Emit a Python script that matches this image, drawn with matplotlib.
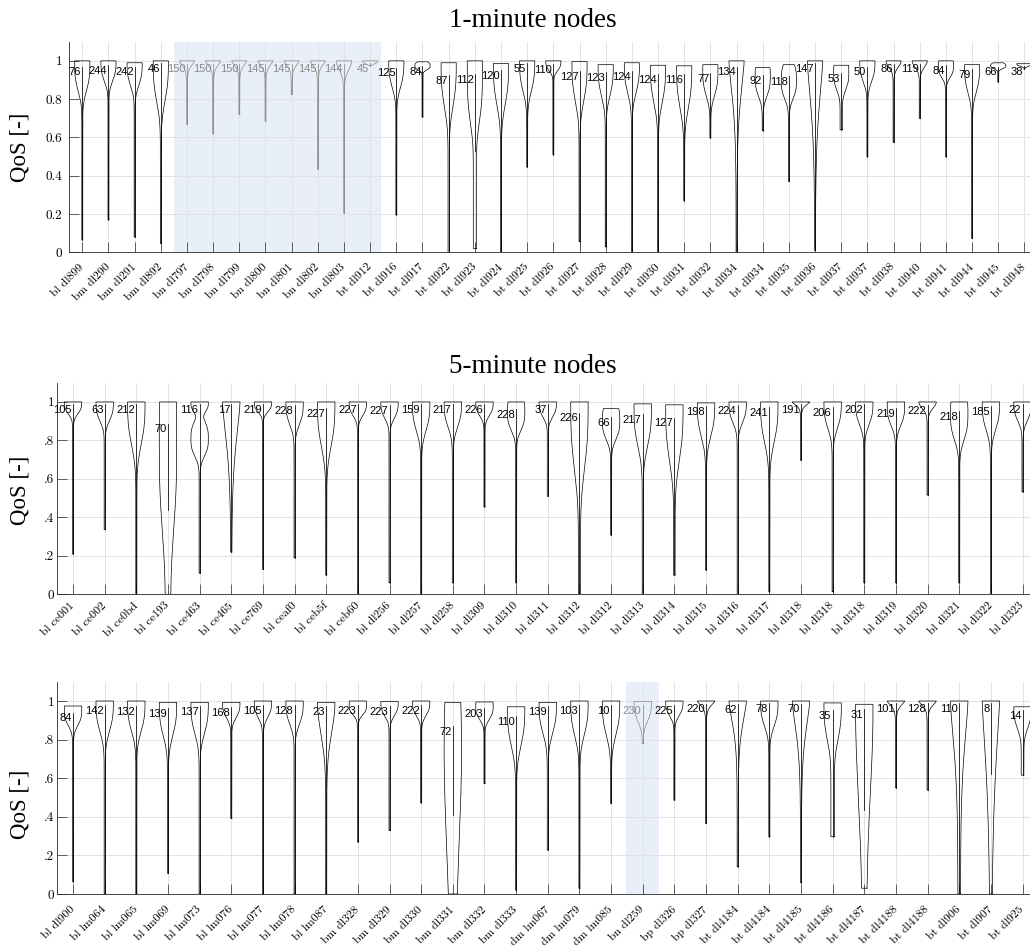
import numpy as np
import matplotlib
matplotlib.use("Agg")
import matplotlib.pyplot as plt

# ---------------- 1-minute nodes ----------------
names1 = ["bl dl899", "bm dl290", "bm dl291", "bm dl892", "bn dl797", "bn dl798", "bn dl799",
          "bn dl800", "bn dl801", "bn dl802", "bn dl803", "bt dl912", "bt dl916", "bt dl917",
          "bt dl922", "bt dl923", "bt dl924", "bt dl925", "bt dl926", "bt dl927", "bt dl928",
          "bt dl929", "bt dl930", "bt dl931", "bt dl932", "bt dl934", "bt dl934", "bt dl935",
          "bt dl936", "bt dl937", "bt dl937", "bt dl938", "bt dl940", "bt dl941", "bt dl944",
          "bt dl945", "bt dl948"]
count1 = [76, 244, 242, 46, 150, 150, 150, 145, 145, 145, 144, 45, 125, 84, 87, 112, 120, 55, 110,
          127, 123, 124, 124, 116, 77, 134, 92, 118, 147, 53, 50, 86, 119, 84, 79, 66, 38]
lo1 = [.065, .17, .08, .047, .668, .62, .72, .685, .825, .435, .204, .975, .196, .708, .0, .02, .0,
       .446, .51, .056, .03, .0, .0, .27, .598, .0, .636, .37, .01, .64, .50, .575, .70, .50, .073,
       .89, .96]
hi1 = [1.0, 1.0, .99, 1.0, 1.0, 1.0, 1.0, 1.0, 1.0, 1.0, 1.0, 1.0, 1.0, .995, .99, 1.0, .986, 1.0,
       1.0, .996, .98, .99, .977, .974, .98, 1.0, .965, .98, 1.0, .977, 1.0, 1.0, 1.0, 1.0, .98,
       .99, .985]
peak1 = [.985, 1.0, .99, 1.0, 1.0, 1.0, 1.0, 1.0, 1.0, 1.0, 1.0, 1.0, 1.0, .975, .99, 1.0, .986,
         1.0, 1.0, .996, .98, .99, .977, .974, .95, 1.0, .92, .90, 1.0, .94, 1.0, 1.0, 1.0, .975,
         .98, .975, .985]
neck1 = [.77, .84, .81, .68, .935, .935, .935, .935, .935, .935, .90, .975, .79, .94, .64, .57, .66,
         .76, .92, .68, .73, .75, .68, .64, .75, .55, .76, .75, .45, .80, .834, .93, .93, .88, .76,
         .95, .965]
power1 = [3, 3, 3, 3, 1.5, 1.5, 1.5, 1.5, 1.5, 1.5, 2, 3, 3, 3, 3, 4, 3, 3, 3, 3, 3, 3, 3, 3, 3,
          1.5, 3, 3, 1.5, 3, 3, 2, 2, 3, 3, 3, 3]
tail1 = [.06] * 14 + [.08, .2] + [.06] * 13 + [.15] + [.06] * 7
med1 = [.94, .947, .94, .96, .956, .956, .956, .956, .956, .956, .956, .96, .935, .943, .895, .90,
        .92, .96, .953, .918, .913, .916, .90, .90, .904, .94, .895, .89, .96, .904, .94, .956, .956,
        .947, .925, .94, .943]
wlo1 = list(lo1)
wlo1[15] = .53
bumps1 = []
grey1 = list(range(4, 12))
span1 = (4.5, 12.4)

# ---------------- 5-minute nodes (upper) ----------------
names2 = ["bl ce001", "bl ce002", "bl ce0bd", "bl ce193", "bl ce463", "bl ce465", "bl ce769",
          "bl ceaf0", "bl ceb5f", "bl ceb60", "bl dl256", "bl dl257", "bl dl258", "bl dl309",
          "bl dl310", "bl dl311", "bl dl312", "bl dl312", "bl dl313", "bl dl314", "bl dl315",
          "bl dl316", "bl dl317", "bl dl318", "bl dl318", "bl dl318", "bl dl319", "bl dl320",
          "bl dl321", "bl dl322", "bl dl323"]
count2 = [105, 63, 212, 70, 116, 17, 219, 228, 227, 227, 227, 159, 217, 226, 228, 37, 226, 66, 217,
          127, 198, 224, 241, 191, 206, 202, 219, 222, 218, 185, 22]
lo2 = [.21, .337, 0, 0, .11, .22, .13, .19, .10, 0, .06, 0, .06, .455, .06, .51, 0, .308, 0, .10,
       .126, 0, .014, .697, .014, .06, .06, .516, .06, 0, .533]
hi2 = [1, 1, 1, 1, 1, 1, 1, 1, 1, 1, 1, 1, 1, 1, 1, 1, 1, .965, .99, .985, .995, 1, 1, 1, 1, 1, 1,
       1, 1, 1, 1]
peak2 = [1, 1, 1, .8, 1, 1, 1, 1, 1, 1, 1, 1, 1, 1, .95, 1, 1, .905, .975, .985, .995, 1, 1, 1, 1,
         1, .985, 1, .94, 1, 1]
neck2 = [.905, .85, .66, .10, .92, .50, .92, .82, .645, .89, .87, .77, .80, .89, .80, .88, .47, .75,
         .66, .54, .73, .835, .68, .957, .79, .82, .82, .93, .73, .78, .85]
power2 = [3, 3, 3, 3, 3, 1.5, 3, 3, 3, 3, 3, 3, 3, 3, 3, 3, 3, 3, 3, 3, 3, 3, 3, 1.5, 3, 3, 3, 2,
          3, 3, 3]
tail2 = [.06] * 31
tail2[3] = .3
tail2[16] = .12
tail2[19] = .08
med2 = [.96, .96, .957, .857, .96, .96, .957, .953, .936, .957, .953, .96, .96, .96, .931, .96, .914,
        .891, .908, .888, .948, .952, .943, .957, .943, .957, .936, .953, .922, .948, .957]
wlo2 = list(lo2)
wlo2[3] = .44
bumps2 = [(4, .81, .085, 1.0)]
grey2 = []
span2 = None

# ---------------- 5-minute nodes (lower) ----------------
names3 = ["bl dl900", "bl lm064", "bl lm065", "bl lm069", "bl lm073", "bl lm076", "bl lm077",
          "bl lm078", "bl lm087", "bm dl328", "bm dl329", "bm dl330", "bm dl331", "bm dl332",
          "bm dl333", "dm lm067", "dm lm079", "dm lm085", "bn dl259", "bp dl326", "bp dl327",
          "bt dl4184", "bt dl4184", "bt dl4185", "bt dl4186", "bt dl4187", "bt dl4188", "bt dl4188",
          "bt dl906", "bt dl907", "bt dl925"]
count3 = [84, 142, 132, 139, 137, 168, 105, 128, 23, 223, 223, 222, 72, 203, 110, 139, 103, 10, 230,
          225, 220, 62, 78, 70, 35, 31, 101, 128, 110, 8, 14]
lo3 = [.064, 0, 0, .107, 0, .392, 0, 0, 0, .27, .33, .473, 0, .573, .02, .228, .03, .47, .78, .487,
       .366, .142, .297, .059, .297, .03, .55, .539, 0, 0, .616]
hi3 = [.974, 1, 1, .993, .993, .993, 1, 1, .993, 1, .997, 1, .993, .995, .97, .993, 1, 1, .997, 1,
       1, 1, 1, 1, .99, .983, 1, 1, 1, 1, .97]
peak3 = [.955, 1, 1, .993, .993, .993, 1, 1, .993, .98, .997, 1, .75, .975, .97, .993, 1, 1, .997,
         1, 1, 1, 1, 1, .99, .95, 1, 1, 1, 1, .97]
neck3 = [.83, .76, .76, .73, .746, .87, .87, .815, .66, .90, .884, .884, -.3, .867, .66, .746, .73,
         .73, .84, .884, .94, .70, .80, .62, .70, .05, .94, .94, .42, .10, .80]
power3 = [3, 3, 3, 3, 3, 3, 3, 3, 2, 3, 3, 3, 2, 3, 3, 3, 3, 3, 3, 3, 1.5, 1.5, 3, 1.5, 3, 2, 1.5,
          1.5, 1.5, 1.3, 3]
tail3 = [.06] * 31
tail3[12] = .3
tail3[24] = .2
tail3[25] = .25
tail3[28] = .15
tail3[29] = .1
tail3[30] = .15
med3 = [.91, .95, .945, .933, .945, .94, .95, .95, .945, .95, .945, .95, .84, .933, .893, .945, .95,
        .95, .95, .95, .956, .953, .958, .956, .922, .927, .958, .958, .958, .958, .922]
wlo3 = list(lo3)
wlo3[12] = .41
wlo3[25] = .435
wlo3[29] = .62
bumps3 = []
grey3 = [18]
span3 = (18.48, 19.52)

yt1 = ["0", "0.2", "0.4", "0.6", "0.8", "1"]
yt2 = ["0", ".2", ".4", ".6", ".8", "1"]

SERIF = "Liberation Serif"
CM = "cmr10"
SANS = "Liberation Sans"
AXCOL = "#262626"
GREY = "#8a8a8a"

fig = plt.figure(figsize=(10.3, 9.47), dpi=100)
FW, FH = 1030.0, 947.0


def px_axes(left, top, bottom, width):
    return fig.add_axes([left / FW, 1 - bottom / FH, width / FW, (bottom - top) / FH])


def violin_halfwidth(y, pk, nk, pw, tl, extra, W):
    s = abs(pk - nk) / (2 * np.log(10)) ** (1.0 / pw)
    g = np.exp(-0.5 * np.abs((y - pk) / s) ** pw)
    for (m, sb, a) in extra:
        g = g + a * np.exp(-0.5 * np.abs((y - m) / sb) ** 3)
    g = np.clip(g, 0, 1)
    return W * (tl + (1 - tl) * g)


def draw_panel(ax, names, counts, lo, hi, peak, neck, power, tail, med, wlo, bumps, grey, span,
               ytl, W, xpad, ypad):
    n = len(names)
    xs = np.arange(1, n + 1)
    ax.set_xlim(0.5, n + 0.5)
    ax.set_ylim(0, 1.1)
    ax.set_axisbelow(True)
    ax.grid(True, color="#e2e2e2", lw=0.7)
    if span is not None:
        ax.axvspan(span[0], span[1], color="#e8eff9", lw=0, zorder=0.1)
    for i in range(n):
        col = GREY if i in grey else "black"
        x = xs[i]
        y = np.linspace(lo[i], hi[i], 400)
        extra = [(m, sb, a) for (j, m, sb, a) in bumps if j == i]
        hw = violin_halfwidth(y, peak[i], neck[i], power[i], tail[i], extra, W)
        px = np.concatenate([x + hw, (x - hw)[::-1], [x + hw[0]]])
        py = np.concatenate([y, y[::-1], [y[0]]])
        ax.plot(px, py, color=col, lw=0.5, zorder=3)
        ax.plot([x, x], [wlo[i], min(hi[i], med[i] + 0.03)], color=col, lw=0.55, zorder=3)
        ax.text(x - 0.04, med[i], str(counts[i]), ha="right", va="center", fontsize=8,
                family=SANS, color=col, zorder=4)
    ax.set_xticks(xs)
    ax.set_xticklabels(names, rotation=45, ha="right", va="center", rotation_mode="anchor",
                       family=CM, fontsize=8.5)
    ax.set_yticks([0, .2, .4, .6, .8, 1])
    ax.set_yticklabels(ytl, family=CM, fontsize=9.5)
    ax.tick_params(axis="both", direction="in", length=7, width=0.5, color=AXCOL)
    ax.tick_params(axis="x", pad=xpad)
    ax.tick_params(axis="y", pad=ypad)
    for side in ("top", "right"):
        ax.spines[side].set_visible(False)
    for side in ("left", "bottom"):
        ax.spines[side].set_color(AXCOL)
        ax.spines[side].set_linewidth(0.6)


ax1 = px_axes(69.2, 41.7, 252.3, 37 * 26.17)
ax2 = px_axes(57.2, 382.7, 594.3, 31 * 31.65)
ax3 = px_axes(57.2, 681.7, 894.0, 31 * 31.65)

draw_panel(ax1, names1, count1, lo1, hi1, peak1, neck1, power1, tail1, med1, wlo1, bumps1, grey1,
           span1, yt1, 0.29, 9.5, 5)
draw_panel(ax2, names2, count2, lo2, hi2, peak2, neck2, power2, tail2, med2, wlo2, bumps2, grey2,
           span2, yt2, 0.275, 7, 2)
draw_panel(ax3, names3, count3, lo3, hi3, peak3, neck3, power3, tail3, med3, wlo3, bumps3, grey3,
           span3, yt2, 0.275, 10, 2)

fig.text(533 / FW, 1 - 26.7 / FH, "1-minute nodes", ha="center", va="baseline", family=SERIF,
         fontsize=19.5)
fig.text(533 / FW, 1 - 373 / FH, "5-minute nodes", ha="center", va="baseline", family=SERIF,
         fontsize=19.5)
for yc in (147, 490, 804):
    fig.text(20 / FW, 1 - yc / FH, "QoS [-]", rotation=90, ha="center", va="center", family=SERIF,
             fontsize=16.5)

fig.savefig("out.png", dpi=100)
